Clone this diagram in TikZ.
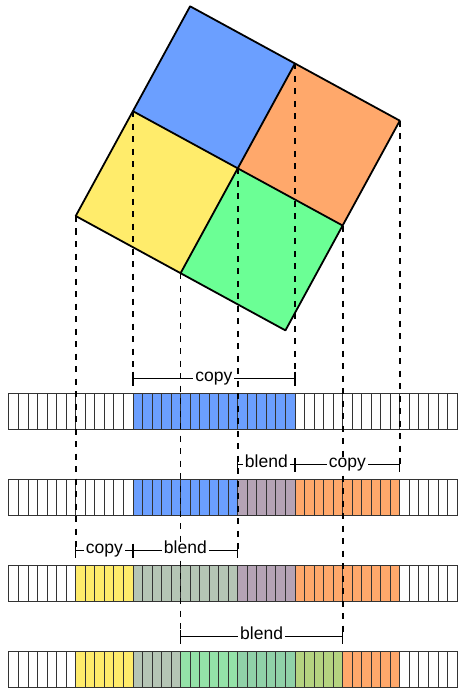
\documentclass[tikz,border=0pt]{standalone}
\usepackage{fontspec}
\setmainfont{Liberation Sans}
\definecolor{cblue}{RGB}{107,159,255}
\definecolor{corange}{RGB}{255,168,107}
\definecolor{cyellow}{RGB}{255,236,107}
\definecolor{cgreen}{RGB}{107,255,149}
\definecolor{cgrey}{RGB}{181,197,181}
\definecolor{cpurple}{RGB}{181,163,181}
\definecolor{cgg}{RGB}{148,226,168}
\definecolor{cgp}{RGB}{144,209,168}
\definecolor{cgo}{RGB}{181,211,128}
\begin{document}
\begin{tikzpicture}[x=9.5319pt,y=-9.5319pt,
  outline/.style={draw=black, line width=1.8pt, line join=round},
  proj/.style={draw=black, line width=1.8pt, dash pattern=on 6pt off 6.5pt},
  cellline/.style={draw=black!80, line width=0.8pt},
  stripframe/.style={draw=black!80, line width=1pt},
  dimline/.style={draw=black, line width=1.2pt},
  dimlabel/.style={fill=white, inner xsep=2pt, inner ysep=0pt, text height=0.72em, text depth=0.21em, font=\fontsize{17.5}{20}\selectfont}]
\useasboundingbox (-0.9442,-22.661) rectangle (47.838,49.832);
% square corners
\coordinate (L) at (7,0);
\coordinate (M1) at (13,-11);
\coordinate (T) at (19,-22);
\coordinate (M2) at (30,-16);
\coordinate (C) at (24,-5);
\coordinate (R) at (41,-10);
\coordinate (M3) at (35,1);
\coordinate (B) at (29,12);
\coordinate (M4) at (18,6);
\fill[cblue] (M1)--(T)--(M2)--(C)--cycle;
\fill[corange] (M2)--(R)--(M3)--(C)--cycle;
\fill[cgreen] (C)--(M3)--(B)--(M4)--cycle;
\fill[cyellow] (L)--(M1)--(C)--(M4)--cycle;
\draw[outline] (L)--(T)--(R)--(B)--cycle;
\draw[outline] (M1)--(M3);
\draw[outline] (M2)--(M4);
% strips
\def\rA{18.60}\def\rB{27.63}\def\rC{36.66}\def\rD{45.69}
% row 1
\fill[cblue] (13,\rA) rectangle (30,\rA+3.8);
% row 2
\fill[cblue] (13,\rB) rectangle (24,\rB+3.8);
\fill[cpurple] (24,\rB) rectangle (30,\rB+3.8);
\fill[corange] (30,\rB) rectangle (41,\rB+3.8);
% row 3
\fill[cyellow] (7,\rC) rectangle (13,\rC+3.8);
\fill[cgrey] (13,\rC) rectangle (24,\rC+3.8);
\fill[cpurple] (24,\rC) rectangle (30,\rC+3.8);
\fill[corange] (30,\rC) rectangle (41,\rC+3.8);
% row 4
\fill[cyellow] (7,\rD) rectangle (13,\rD+3.8);
\fill[cgrey] (13,\rD) rectangle (18,\rD+3.8);
\fill[cgg] (18,\rD) rectangle (24,\rD+3.8);
\fill[cgp] (24,\rD) rectangle (30,\rD+3.8);
\fill[cgo] (30,\rD) rectangle (35,\rD+3.8);
\fill[corange] (35,\rD) rectangle (41,\rD+3.8);
\foreach \r in {\rA,\rB,\rC,\rD}{
  \foreach \k in {1,...,46}{\draw[cellline] (\k,\r) -- (\k,\r+3.8);}
  \draw[stripframe] (0,\r) rectangle (47,\r+3.8);
}
% dimension ends
\coordinate (d1a) at (13,17.05);
\coordinate (d1b) at (30,17.05);
\coordinate (d2a) at (24,26.08);
\coordinate (d2b) at (30,26.08);
\coordinate (d2c) at (41,26.08);
\coordinate (d3a) at (7,35.11);
\coordinate (d3b) at (13,35.11);
\coordinate (d3c) at (24,35.11);
\coordinate (d4a) at (18,44.14);
\coordinate (d4b) at (35,44.14);
% projections
\draw[proj] (L) -- (d3a);
\draw[proj] (M1) -- (d1a);
\draw[proj] (M4) -- (d4a);
\draw[proj] (C) -- (d3c);
\draw[proj] (M2) -- (d1b);
\draw[proj] (M3) -- (d4b);
\draw[proj] (R) -- (d2c);
% dimension lines
\draw[dimline] (d1a) -- (d1b) node[midway, dimlabel] (lab1) {copy};
\draw[dimline] (d2a) -- (d2b) node[midway, dimlabel] (lab2a) {blend};
\draw[dimline] (d2b) -- (d2c) node[midway, dimlabel] (lab2b) {copy};
\draw[dimline] (d3a) -- (d3b) node[midway, dimlabel] (lab3a) {copy};
\draw[dimline] (d3b) -- (d3c) node[midway, dimlabel] (lab3b) {blend};
\draw[dimline] (d4a) -- (d4b) node[midway, dimlabel] (lab4) {blend};
\foreach \p in {d1a,d1b,d2a,d2b,d2c,d3a,d3b,d3c,d4a,d4b}{
  \draw[dimline] ([yshift=7pt]\p) -- ([yshift=-7pt]\p);
}
\end{tikzpicture}
\end{document}
